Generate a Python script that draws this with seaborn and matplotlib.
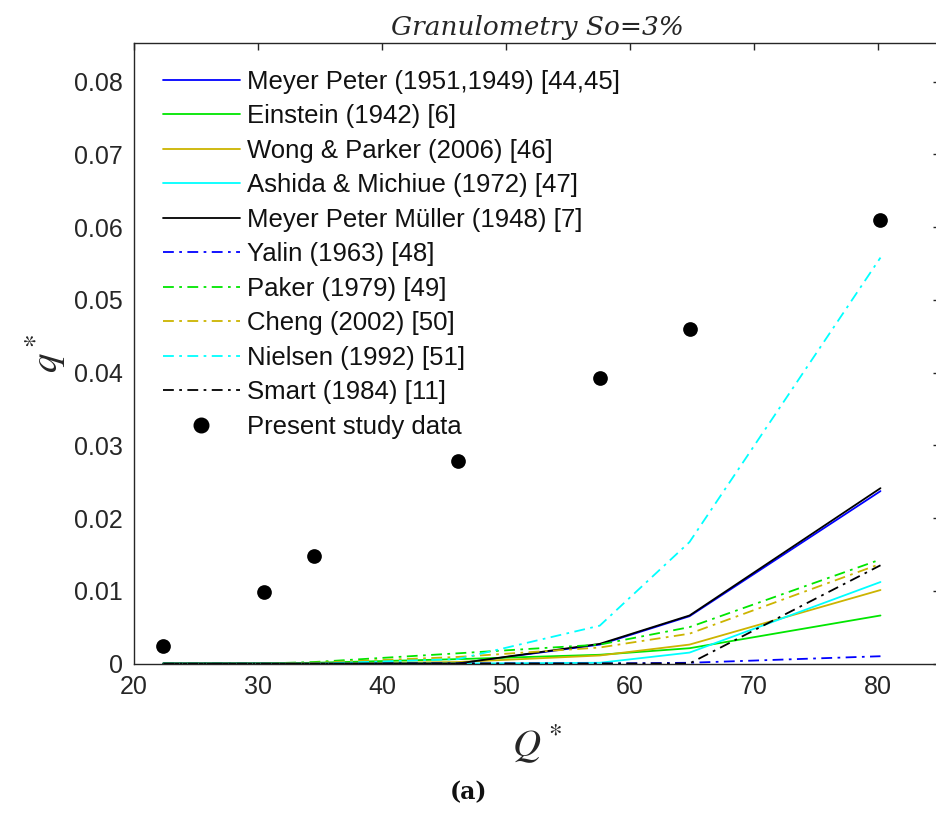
import matplotlib
matplotlib.use("Agg")
import matplotlib.pyplot as plt
import seaborn as sns
import pandas as pd
from matplotlib.lines import Line2D

# ---------------- data ----------------
Q = [22.36, 30.48, 34.5, 46.1, 57.56, 64.8, 80.2]
present_study = [0.00245, 0.00986, 0.0148, 0.0278, 0.0393, 0.0460, 0.0610]

meyer_peter = [0, 0, 0, 0, 0.0026, 0.0065, 0.0237]
einstein = [0, 0.00002, 0.0001, 0.0006, 0.0012, 0.0021, 0.0066]
wong_parker = [0, 0, 0, 0.0002, 0.0011, 0.0026, 0.0101]
ashida_michiue = [0, 0, 0, 0, 0.0001, 0.0015, 0.0112]
meyer_peter_muller = [0, 0, 0, 0, 0.0027, 0.0066, 0.0241]
yalin = [0, 0, 0, 0, 0, 0.0001, 0.0010]
paker = [0, 0, 0.0002, 0.0014, 0.0026, 0.0050, 0.0143]
cheng = [0, 0, 0.0001, 0.0009, 0.0022, 0.0041, 0.0137]
nielsen = [0, 0, 0, 0.0006, 0.0052, 0.0167, 0.0558]
smart = [0, 0, 0, 0, 0, 0, 0.0135]

labels = ["Meyer Peter (1951,1949) [44,45]", "Einstein (1942) [6]",
          "Wong & Parker (2006) [46]", "Ashida & Michiue (1972) [47]",
          "Meyer Peter Müller (1948) [7]", "Yalin (1963) [48]", "Paker (1979) [49]",
          "Cheng (2002) [50]", "Nielsen (1992) [51]", "Smart (1984) [11]"]
series = [meyer_peter, einstein, wong_parker, ashida_michiue, meyer_peter_muller,
          yalin, paker, cheng, nielsen, smart]
dot_label = "Present study data"
x_ticks = [20, 30, 40, 50, 60, 70, 80]
y_ticks = [0, 0.01, 0.02, 0.03, 0.04, 0.05, 0.06, 0.07, 0.08]
y_ticklabels = ["0", "0.01", "0.02", "0.03", "0.04", "0.05", "0.06", "0.07", "0.08"]

# ---------------- style ----------------
sns.set_theme(style="white")
plt.rcParams['font.family'] = ['Liberation Sans', 'DejaVu Sans']
plt.rcParams['mathtext.fontset'] = 'stix'

blue = "#0000ff"
green = "#00e600"
yellow = "#ccb400"
cyan = "#00ffff"
black = "#000000"
solid = "-"
dashdot = (0, (6, 3, 1.5, 3))
colors = [blue, green, yellow, cyan, black, blue, green, yellow, cyan, black]
styles = [solid] * 5 + [dashdot] * 5

fig = plt.figure(figsize=(9.36, 8.18), dpi=100)
ax = fig.add_axes([134 / 936, (818 - 663.5) / 818, 806 / 936, (663.5 - 43) / 818])

handles = []
for lab, vals, c, ls in zip(labels, series, colors, styles):
    df = pd.DataFrame({"Q": Q, "q": vals})
    sns.lineplot(data=df, x="Q", y="q", ax=ax, color=c, linewidth=1.3,
                 linestyle="-", legend=False)
    line = ax.get_lines()[-1]
    line.set_linestyle(ls)
    handles.append(Line2D([], [], color=c, linewidth=1.3, linestyle=ls))

df_pts = pd.DataFrame({"Q": Q, "q": present_study})
sns.scatterplot(data=df_pts, x="Q", y="q", ax=ax, color="black", s=112,
                edgecolor="black", linewidth=0, zorder=5, legend=False)
handles.append(Line2D([], [], color="black", marker="o", markersize=10.5, linestyle="none"))

ax.set_xlim(20, 85)
ax.set_ylim(0, 0.0853)
ax.set_xticks(x_ticks)
ax.set_yticks(y_ticks)
ax.set_yticklabels(y_ticklabels)
ax.tick_params(direction="in", top=True, right=True, length=5, width=1,
               labelsize=18, colors="#262626", pad=8)
for sp in ax.spines.values():
    sp.set_color("#262626")
    sp.set_linewidth(1)
    sp.set_visible(True)

ax.set_xlabel(r"$Q^*$", fontsize=28, color="#262626", labelpad=17)
ax.set_ylabel(r"$q^*$", fontsize=28, color="#262626", labelpad=4)
ax.set_title("Granulometry So=3%", fontsize=19, fontstyle="italic",
             family="DejaVu Serif", color="#262626", pad=6)

ax.legend(handles, labels + [dot_label], loc="upper left", frameon=False,
          fontsize=18.5, handlelength=3.0, handletextpad=0.27, labelspacing=0.41,
          bbox_to_anchor=(0.0165, 0.982), borderaxespad=0.2, labelcolor="#111111")

fig.text(468 / 936, 1 - 792 / 818, "(a)", ha="center", va="center",
         fontsize=17, fontweight="bold", family="DejaVu Serif", color="#111111")

fig.savefig("out.png", dpi=100)
